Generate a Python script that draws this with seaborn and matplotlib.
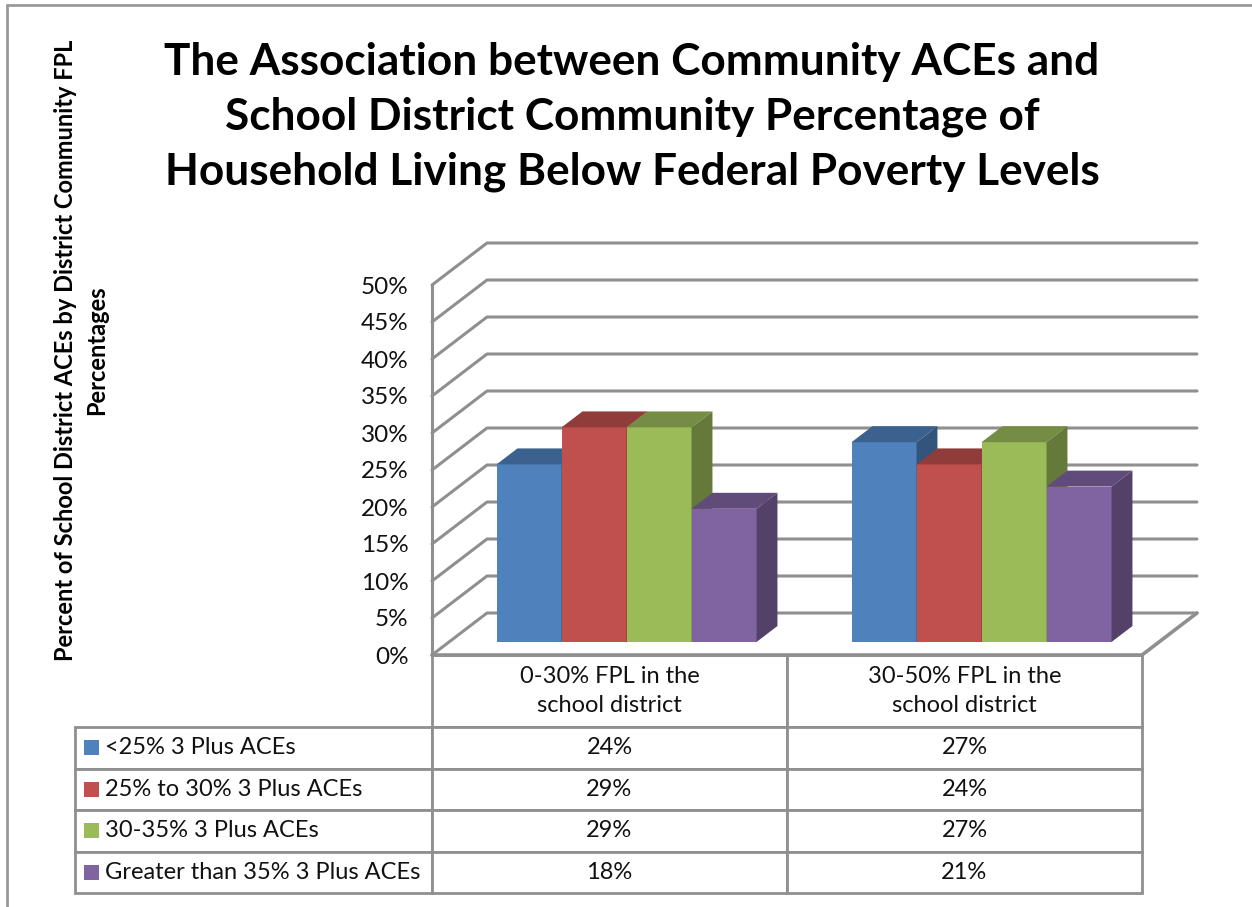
import numpy as np
import pandas as pd
import matplotlib
matplotlib.use("Agg")
import matplotlib.pyplot as plt
from matplotlib.lines import Line2D
from matplotlib.patches import Polygon
import seaborn as sns

# data
categories = ["0-30% FPL in the\nschool district", "30-50% FPL in the\nschool district"]
series = [
    "<25% 3 Plus ACEs",
    "25% to 30% 3 Plus ACEs",
    "30-35% 3 Plus ACEs",
    "Greater than 35% 3 Plus ACEs",
]
fpl_0_30 = [0.24, 0.29, 0.29, 0.18]
fpl_30_50 = [0.27, 0.24, 0.27, 0.21]
colors = ["#4f81bd", "#c0504d", "#9bbb59", "#8064a2"]
y_ticks = [0.0, 0.05, 0.10, 0.15, 0.20, 0.25, 0.30, 0.35, 0.40, 0.45, 0.50]

title = ("The Association between Community ACEs and\n"
         "School District Community Percentage of\n"
         "Household Living Below Federal Poverty Levels")
y_title = "Percent of School District ACEs by District Community FPL\nPercentages"


def shade(hex_color, k):
    r, g, b = matplotlib.colors.to_rgb(hex_color)
    return (r * k, g * k, b * k)


def main():
    sns.set_theme(style="white")
    plt.rcParams["font.family"] = ["Lato", "DejaVu Sans"]

    W, H = 1252, 907
    fig = plt.figure(figsize=(W / 100, H / 100), dpi=100)

    # pixel layout of the pseudo-3D box
    front_l, front_r = 432, 1142
    floor_y, top_y = 655, 285
    depth_px = (55, 42)
    Dx = depth_px[0] / ((front_r - front_l) / 2)
    Dy = depth_px[1] / ((floor_y - top_y) / 0.5)

    ax_w = front_r - front_l + depth_px[0]
    ax_h = floor_y - top_y + depth_px[1]
    ax = fig.add_axes([front_l / W, (H - floor_y) / H, ax_w / W, ax_h / H])

    df = pd.DataFrame({
        "category": [categories[0]] * 4 + [categories[1]] * 4,
        "series": series * 2,
        "value": fpl_0_30 + fpl_30_50,
    })
    sns.barplot(data=df, x="category", y="value", hue="series",
                hue_order=series, order=categories, palette=colors,
                width=260 / 355, saturation=1, legend=False,
                edgecolor="none", linewidth=0, ax=ax)

    ax.set_xlim(-0.5, 1.5 + Dx)
    ax.set_ylim(0, 0.5 + Dy)
    for s in ax.spines.values():
        s.set_visible(False)
    ax.set_xticks([])
    ax.set_xlabel("")
    ax.set_ylabel("")
    ax.set_yticks(y_ticks)
    ax.set_yticklabels([f"{int(round(v * 100))}%" for v in y_ticks])
    ax.tick_params(axis="y", length=0, pad=17, labelsize=17.5, colors="#111111")
    ax.grid(False)

    grid_c = "#8f8f8f"
    for v in y_ticks:
        ax.plot([-0.5, -0.5 + Dx, 1.5 + Dx], [v, v + Dy, v + Dy],
                color=grid_c, lw=2.2, zorder=1, clip_on=False)
    ax.plot([-0.5, -0.5], [0, 0.5], color=grid_c, lw=2.2, zorder=1, clip_on=False)
    ax.plot([-0.5, 1.5, 1.5 + Dx], [0, 0, Dy], color=grid_c, lw=2.6,
            zorder=1, clip_on=False)

    # bars: shift front faces into the box and add top/side faces
    front, thick = 0.31, 0.38
    bars = sorted(ax.patches, key=lambda p: p.get_x())
    for i, p in enumerate(bars):
        z = 3 + 0.01 * i
        col = p.get_facecolor()
        x0 = p.get_x() + front * Dx
        y0 = front * Dy
        w, h = p.get_width(), p.get_height()
        p.set_x(x0)
        p.set_y(y0)
        p.set_zorder(z)
        bx, by = thick * Dx, thick * Dy
        top = y0 + h
        top_face = Polygon([(x0, top), (x0 + w, top), (x0 + w + bx, top + by),
                            (x0 + bx, top + by)], closed=True,
                           facecolor=shade(col, 0.75), edgecolor="none", zorder=z)
        side_face = Polygon([(x0 + w, y0), (x0 + w + bx, y0 + by),
                             (x0 + w + bx, top + by), (x0 + w, top)], closed=True,
                            facecolor=shade(col, 0.65), edgecolor="none", zorder=z)
        ax.add_patch(top_face)
        ax.add_patch(side_face)

    # data table under the chart
    tbl_l, tbl_b = 75, 893
    head_h, row_h = 72, 41.5
    col_w = [357, 355, 355]
    cell_text = [[series[i], f"{int(round(fpl_0_30[i] * 100))}%",
                  f"{int(round(fpl_30_50[i] * 100))}%"] for i in range(4)]
    bbox = [(tbl_l - front_l) / ax_w, (floor_y - tbl_b) / ax_h,
            (front_r - tbl_l) / ax_w, (tbl_b - floor_y) / ax_h]
    table = ax.table(cellText=cell_text, colLabels=[""] + categories,
                     cellLoc="center", bbox=bbox)
    table.auto_set_font_size(False)
    table.set_fontsize(17)
    for (r, c), cell in table.get_celld().items():
        cell.set_width(col_w[c])
        cell.set_height(head_h if r == 0 else row_h)
        cell.set_edgecolor("#8f8f8f")
        cell.set_linewidth(2)
        cell.get_text().set_color("#111111")
        if r == 0:
            cell.get_text().set_linespacing(1.45)
        if r == 0 and c == 0:
            cell.visible_edges = ""
        if c == 0 and r > 0:
            cell.get_text().set_ha("left")
            cell._loc = "left"
            cell.PAD = 0.084

    # legend swatches in the row label cells
    sw_x = [(91.5 - front_l) / ax_w] * 4
    sw_y = [(floor_y - (floor_y + head_h + row_h * (i + 0.5))) / ax_h for i in range(4)]
    ax.scatter(sw_x, sw_y, marker="s", s=115, c=colors, linewidths=0,
               transform=ax.transAxes, clip_on=False, zorder=5)

    fig.text(632 / W, 1 - 117 / H, title, ha="center", va="center",
             fontsize=31.8, fontweight="bold", linespacing=1.45, color="black")
    fig.text(81 / W, 1 - 350 / H, y_title, ha="center", va="center",
             rotation=90, fontsize=17, fontweight="bold", linespacing=1.4,
             color="black")

    fig.add_artist(Line2D([7 / W, 7 / W], [0, 1 - 5 / H], transform=fig.transFigure,
                          color="#9a9a9a", lw=2))
    fig.add_artist(Line2D([7 / W, 1], [1 - 5 / H, 1 - 5 / H], transform=fig.transFigure,
                          color="#9a9a9a", lw=2))

    fig.savefig("out.png", dpi=100, facecolor="white")


if __name__ == "__main__":
    main()
